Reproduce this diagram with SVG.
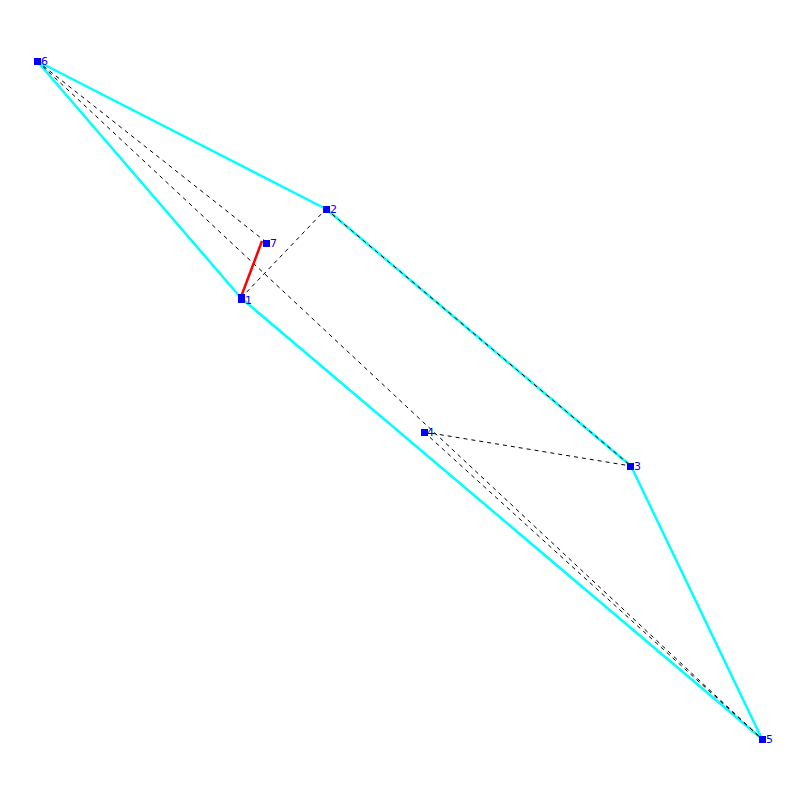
<svg xmlns="http://www.w3.org/2000/svg" width="800" height="800" viewBox="0 0 800 800">
<style>
.hull{stroke:#00ffff;stroke-width:2.5;fill:none}
.dash{stroke:#000;stroke-width:1;stroke-dasharray:4,4;fill:none}
.red{stroke:#ff0000;stroke-width:2.5}
.pt{fill:#0000ff}
.lbl{fill:#0000ff;font-family:"DejaVu Sans",sans-serif;font-size:11px}
</style>
<rect width="800" height="800" fill="#fff"/>
<g id="connectors">
<line class="hull" x1="37" y1="61" x2="326" y2="209"/>
<line class="hull" x1="37" y1="61" x2="241" y2="298"/>
<line class="hull" x1="326" y1="209" x2="631" y2="466"/>
<line class="hull" x1="241" y1="298" x2="762" y2="739"/>
<line class="hull" x1="631" y1="466" x2="762" y2="739"/>
<line class="dash" x1="37" y1="61" x2="266" y2="242"/>
<line class="dash" x1="37" y1="61" x2="762" y2="739"/>
<line class="dash" x1="241" y1="298" x2="326" y2="209"/>
<line class="dash" x1="326" y1="209" x2="631" y2="466"/>
<line class="dash" x1="424" y1="432" x2="631" y2="466"/>
<line class="dash" x1="424" y1="432" x2="762" y2="739"/>
<line class="red" x1="241" y1="297" x2="262" y2="241"/>
</g>
<g id="n6"><rect class="pt" x="34" y="58" width="7" height="7"/><text class="lbl" x="41" y="65">6</text></g>
<g id="n2"><rect class="pt" x="323" y="206" width="7" height="7"/><text class="lbl" x="330" y="213">2</text></g>
<g id="n7"><rect class="pt" x="263" y="240" width="7" height="7"/><text class="lbl" x="270" y="247">7</text></g>
<g id="n1"><rect class="pt" x="238" y="294" width="7" height="9"/><text class="lbl" x="245" y="304">1</text></g>
<g id="n4"><rect class="pt" x="421" y="429" width="7" height="7"/><text class="lbl" x="427" y="436">4</text></g>
<g id="n3"><rect class="pt" x="627" y="463" width="7" height="7"/><text class="lbl" x="634" y="470">3</text></g>
<g id="n5"><rect class="pt" x="759" y="736" width="7" height="7"/><text class="lbl" x="766" y="743">5</text></g>
</svg>
